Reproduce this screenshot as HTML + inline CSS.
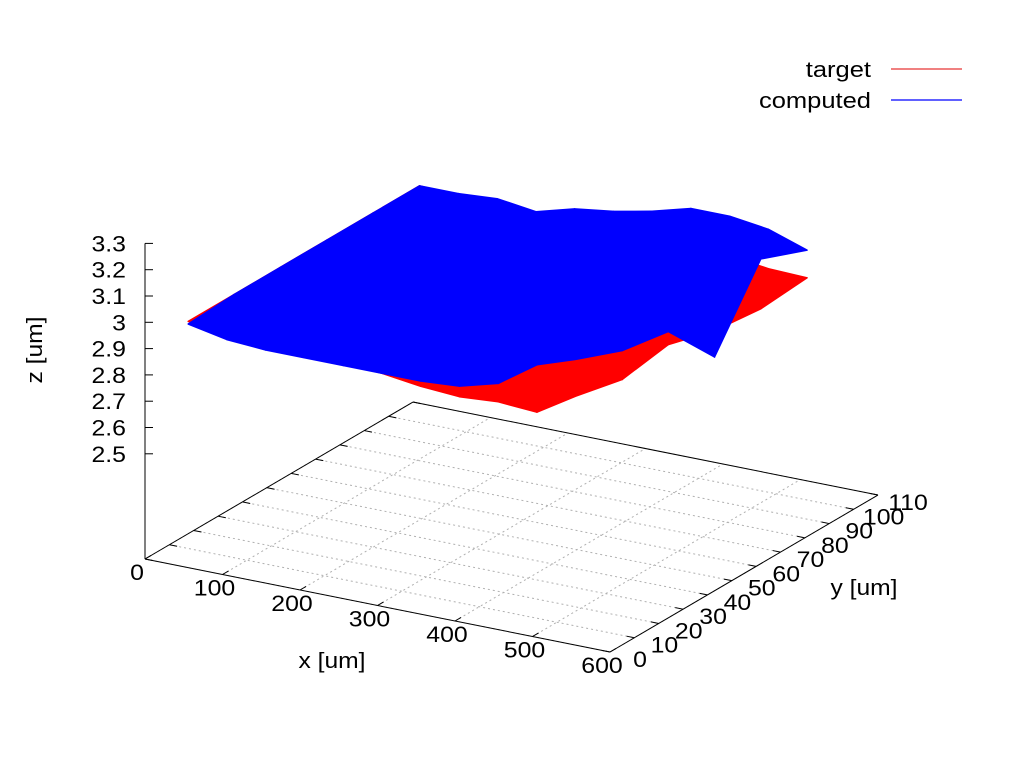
<!DOCTYPE html>
<html><head><meta charset="utf-8"><style>
html,body{margin:0;padding:0;background:#fff;}
svg{display:block;font-family:"Liberation Sans",Arial,sans-serif;}
</style></head><body>
<svg id="chart" width="1024" height="768" viewBox="0 0 1024 768" xmlns="http://www.w3.org/2000/svg">
<g id="grid"></g>
<g id="frame"></g>
<g id="surfaces"></g>
<g id="labels"></g>
<text x="0" y="0" transform="translate(42,350) rotate(-90) scale(1.12,1)" text-anchor="middle" font-size="22">z [um]</text>
<text x="0" y="0" transform="translate(332,668) scale(1.12,1)" text-anchor="middle" font-size="22">x [um]</text>
<text x="0" y="0" transform="translate(864,595) scale(1.12,1)" text-anchor="middle" font-size="22">y [um]</text>
<g>
<text x="0" y="0" transform="translate(871,77) scale(1.16,1)" text-anchor="end" font-size="22">target</text>
<line x1="891" y1="69" x2="962" y2="69" stroke="#e00000" stroke-width="1"/>
<text x="0" y="0" transform="translate(871,108) scale(1.16,1)" text-anchor="end" font-size="22">computed</text>
<line x1="891" y1="100" x2="962" y2="100" stroke="#0000ff" stroke-width="1.2"/>
</g>
</svg>
<script>
const xTicks=[0,100,200,300,400,500,600];
const yTicks=[0,10,20,30,40,50,60,70,80,90,100,110];
const zTicks=[2.5,2.6,2.7,2.8,2.9,3.0,3.1,3.2,3.3];
const zTickLabels=["2.5","2.6","2.7","2.8","2.9","3","3.1","3.2","3.3"];
const gridX=[40,90,140,190,240,290,340,390,440,490,540];
const gridY=[5,24,43,62,81,100];
const targetZ=[
[3.00,3.00,2.99,2.97,2.96,2.95,2.93,2.92,2.93,2.92,3.01],
[3.00,3.00,2.98,2.97,2.96,2.95,2.94,2.94,2.95,2.96,2.97],
[3.00,3.00,3.00,2.99,2.98,2.97,2.96,2.96,2.97,2.98,3.00],
[3.00,3.00,3.00,3.00,2.99,2.98,2.97,2.96,2.96,2.95,2.95],
[3.00,3.00,3.00,3.00,2.99,2.98,2.97,2.96,2.95,2.94,2.93],
[3.00,2.99,2.99,2.98,3.00,3.00,3.00,2.98,2.97,2.95,2.945]];
const computedZ=[
[2.99,2.96,2.95,2.95,2.95,2.95,2.95,2.96,3.00,3.10,3.15],
[3.00,2.98,3.00,3.02,3.00,2.96,2.95,2.97,3.02,3.08,3.08],
[3.00,3.01,3.03,3.05,3.02,2.98,2.97,2.99,3.02,3.04,3.05],
[3.00,3.03,3.05,3.04,3.02,3.00,3.00,3.02,3.05,3.00,2.85],
[3.00,3.02,3.04,3.02,3.03,3.02,3.05,3.08,3.10,3.12,3.12],
[3.00,3.00,3.01,2.99,3.03,3.05,3.08,3.12,3.12,3.10,3.05]];
const NS="http://www.w3.org/2000/svg";
const ZBASE=2.1, ZPX=263, SX=1.13;
function sx(x,y){return 145+0.775*x+2.436*y;}
function sy(x,y,z){return 559+0.155*x-1.427*y-(z-ZBASE)*ZPX;}
function mk(tag,attrs,parent){const e=document.createElementNS(NS,tag);for(const k in attrs)e.setAttribute(k,attrs[k]);parent.appendChild(e);return e;}
function txt(x,y,anchor,s,parent){const t=mk('text',{x:0,y:0,'text-anchor':anchor,'font-size':22,transform:'translate('+x.toFixed(1)+','+y.toFixed(1)+') scale('+SX+',1)'},parent);t.textContent=s;return t;}
const grid=document.getElementById('grid'),frame=document.getElementById('frame'),surf=document.getElementById('surfaces'),labels=document.getElementById('labels');
xTicks.forEach(function(x){
 const l=mk('line',{x1:sx(x,0),y1:sy(x,0,ZBASE),x2:sx(x,110),y2:sy(x,110,ZBASE),stroke:'#b0b0b0','stroke-dasharray':'2,3','stroke-width':1},grid);
 
 
});
yTicks.forEach(function(y){
 const l=mk('line',{x1:sx(0,y),y1:sy(0,y,ZBASE),x2:sx(600,y),y2:sy(600,y,ZBASE),stroke:'#b0b0b0','stroke-dasharray':'2,3','stroke-width':1},grid);
 
 
});
const corners=[[0,0],[600,0],[600,110],[0,110]];
for(let i=0;i<4;i++){const a=corners[i],b=corners[(i+1)%4];
 const l=mk('line',{x1:sx(a[0],a[1]),y1:sy(a[0],a[1],ZBASE),x2:sx(b[0],b[1]),y2:sy(b[0],b[1],ZBASE),stroke:'#000','stroke-width':1},frame);
 
 
}
const zax=mk('line',{x1:145,y1:sy(0,0,zTicks[zTicks.length-1]),x2:145,y2:559,stroke:'#000','stroke-width':1},frame);


zTicks.forEach(function(z,i){const yy=sy(0,0,z);
 const t=mk('line',{x1:145,y1:yy,x2:153,y2:yy,stroke:'#000'},frame);
 
 
 const tx=txt(126,yy+8,'end',zTickLabels[i],labels);
 
 
});
xTicks.forEach(function(x){
 const t=mk('line',{x1:sx(x,0),y1:sy(x,0,ZBASE),x2:sx(x,2.5),y2:sy(x,2.5,ZBASE),stroke:'#000'},frame);
 
 
 const tx=txt(sx(x,0)-8,sy(x,0,ZBASE)+21,'middle',String(x),labels);
 
 
});
yTicks.forEach(function(y){
 const t=mk('line',{x1:sx(600,y),y1:sy(600,y,ZBASE),x2:sx(590,y),y2:sy(590,y,ZBASE),stroke:'#000'},frame);
 
 
 const t2=mk('line',{x1:sx(0,y),y1:sy(0,y,ZBASE),x2:sx(10,y),y2:sy(10,y,ZBASE),stroke:'#000'},frame);
 
 
 const tx=txt(sx(600,y)+30,sy(600,y,ZBASE)+15,'middle',String(y),labels);
 
 
});
function drawSurface(Z,color,name){
 const g=mk('g',{},surf);
 
 
 for(let j=gridY.length-2;j>=0;j--){
  for(let i=0;i<gridX.length-1;i++){
   const pts=[[i,j],[i+1,j],[i+1,j+1],[i,j+1]].map(function(p){
    return sx(gridX[p[0]],gridY[p[1]]).toFixed(1)+','+sy(gridX[p[0]],gridY[p[1]],Z[p[1]][p[0]]).toFixed(1);}).join(' ');
   const q=mk('polygon',{points:pts,fill:color,stroke:color,'stroke-width':1.5,'stroke-linejoin':'round'},g);
   
   
  }
 }
}
drawSurface(targetZ,'#ff0000','target-surface');
drawSurface(computedZ,'#0000ff','computed-surface');
</script>
</body></html>
